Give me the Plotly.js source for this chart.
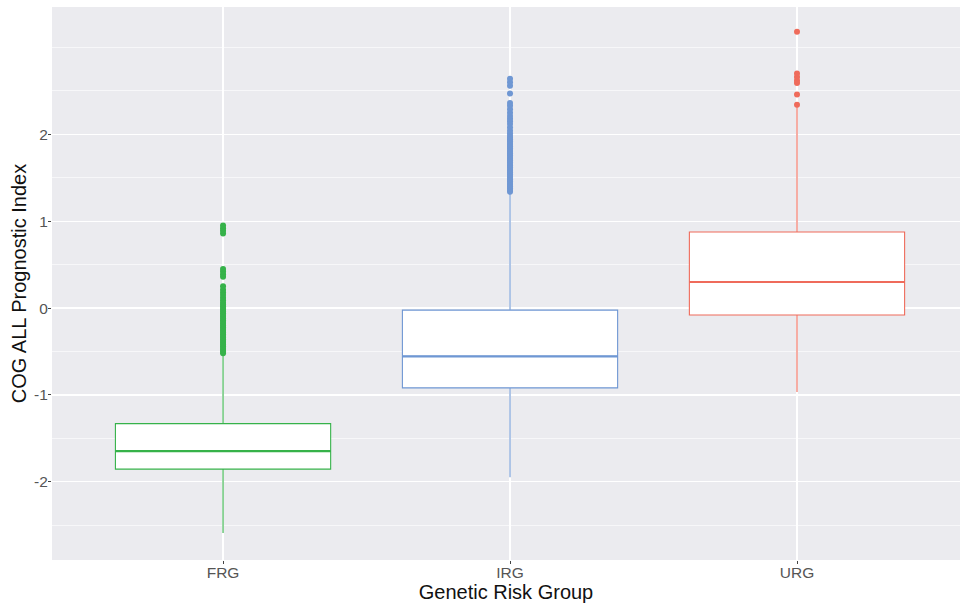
<!DOCTYPE html>
<html>
<head>
<meta charset="utf-8">
<script src="https://cdn.plot.ly/plotly-3.0.1.min.js"></script>
<style>html,body{margin:0;padding:0;background:#fff;}#chart{width:960px;height:604px;}</style>
</head>
<body>
<div id="chart"></div>
<script>
// ---- data ----
const categories = ['FRG', 'IRG', 'URG'];
const colors = ['#36B24A', '#6F97D3', '#EF6B5B'];
const q1 = [-1.854, -0.918, -0.08];
const median = [-1.647, -0.556, 0.30];
const q3 = [-1.33, -0.023, 0.875];
const lowerWhisker = [-2.59, -1.946, -0.967];
const upperWhisker = [-0.53, 1.33, 2.32];

const outliersFRG = [
  -0.52, -0.50, -0.48, -0.46, -0.44, -0.42, -0.40, -0.38, -0.36, -0.34,
  -0.32, -0.30, -0.28, -0.26, -0.24, -0.22, -0.20, -0.18, -0.16, -0.14,
  -0.12, -0.10, -0.08, -0.06, -0.04, -0.02, 0.00, 0.02, 0.04, 0.06,
  0.09, 0.12, 0.15, 0.18, 0.21, 0.25,
  0.36, 0.39, 0.42, 0.45,
  0.86, 0.89, 0.92, 0.95
];
const outliersIRG = [
  1.34, 1.36, 1.38, 1.40, 1.42, 1.44, 1.46, 1.48, 1.50, 1.52,
  1.54, 1.56, 1.58, 1.60, 1.62, 1.64, 1.66, 1.68, 1.70, 1.72,
  1.74, 1.76, 1.78, 1.80, 1.82, 1.84, 1.86, 1.88, 1.90, 1.92,
  1.94, 1.96, 1.98, 2.01, 2.04, 2.08,
  2.12, 2.15, 2.18, 2.21, 2.25,
  2.29, 2.33, 2.36,
  2.47,
  2.56, 2.60, 2.64
];
const outliersURG = [2.34, 2.46, 2.59, 2.62, 2.66, 2.70, 3.18];
const outliers = [outliersFRG, outliersIRG, outliersURG];

// ---- traces ----
const traces = [];
const halfWidth = 0.375;
categories.forEach((cat, i) => {
  traces.push({
    type: 'box',
    x: [i],
    q1: [q1[i]], median: [median[i]], q3: [q3[i]],
    lowerfence: [lowerWhisker[i]], upperfence: [upperWhisker[i]],
    width: 2 * halfWidth,
    whiskerwidth: 0,
    boxpoints: false,
    fillcolor: 'white',
    line: {color: colors[i], width: 1.1},
    hoverinfo: 'skip',
    showlegend: false
  });
  traces.push({
    type: 'scatter', mode: 'lines',
    x: [i - halfWidth, i + halfWidth],
    y: [median[i], median[i]],
    line: {color: colors[i], width: 2.2},
    hoverinfo: 'skip', showlegend: false
  });
  traces.push({
    type: 'scatter', mode: 'markers',
    x: outliers[i].map(() => i),
    y: outliers[i],
    marker: {color: colors[i], size: 6, line: {width: 0}},
    hoverinfo: 'skip', showlegend: false
  });
});

const layout = {
  width: 960, height: 604,
  margin: {l: 52, r: 0, t: 7, b: 44},
  paper_bgcolor: 'white',
  plot_bgcolor: '#EBEBEF',
  font: {family: 'Liberation Sans, Arial, sans-serif'},
  showlegend: false,
  xaxis: {
    range: [-0.596, 2.568],
    tickvals: [0, 1, 2],
    ticktext: categories,
    showgrid: true, gridcolor: 'white', gridwidth: 1.2,
    zeroline: false, showline: false,
    ticks: 'outside', ticklen: 3, tickwidth: 1, tickcolor: '#444',
    ticklabelstandoff: -5,
    tickfont: {size: 15.5, color: '#555'},
    title: {text: 'Genetic Risk Group', font: {size: 20, color: '#111'}, standoff: 0}
  },
  yaxis: {
    range: [-2.90, 3.466],
    tickvals: [-2, -1, 0, 1, 2],
    ticktext: ['-2', '-1', '0', '1', '2'],
    showgrid: true, gridcolor: 'white', gridwidth: 1.2,
    minor: {dtick: 0.5, tick0: 0.5, showgrid: true, gridcolor: 'white', gridwidth: 0.6},
    zeroline: false, showline: false,
    ticks: 'outside', ticklen: 3, tickwidth: 1, tickcolor: '#444',
    ticklabelstandoff: -3,
    tickfont: {size: 15.5, color: '#555'},
    title: {text: 'COG ALL Prognostic Index', font: {size: 20, color: '#111'}, standoff: 2}
  }
};

Plotly.newPlot('chart', traces, layout, {displayModeBar: false, staticPlot: true});
</script>
</body>
</html>
